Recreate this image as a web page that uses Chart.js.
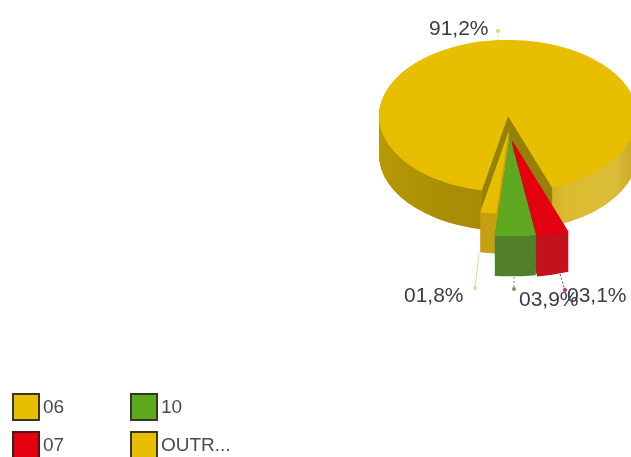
<!DOCTYPE html>
<html><head><meta charset="utf-8">
<script src="https://cdn.jsdelivr.net/npm/chart.js@4/dist/chart.umd.min.js"></script>
<style>html,body{margin:0;padding:0;background:#fff;overflow:hidden}canvas{display:block;filter:blur(0.45px)}</style>
</head><body><canvas id="c" width="631" height="457"></canvas>
<script>
// Data
const categories = ['07', '10', '06', 'OUTR...'];
const values = [3.1, 3.9, 1.8, 91.2];
const sliceLabels = ['03,1%', '03,9%', '01,8%', '91,2%'];
const legendOrder = ['06', '07', '10', 'OUTR...'];

// Styles
const faceColors = ['#e5000f', '#5fa81f', '#e8bf00', '#e8bf00'];
const depthColors = ['#c2141f', '#52802b', '#c6a012', null];
const legendBorders = {'06':'#3a3420','07':'#4a1a1a','10':'#2f3a20','OUTR...':'#3a3420'};
const shiftX = [4, 2, 1, 0];
const shiftY = [41, 36, 24, 0];
const growth = [1.28, 1.3, 1.1, 1];
const YS = 0.59, CY = 116, DEPTH = 66, R = 129;
const labelPos = [
  {x:567,y:296,mx:565,my:290,fx:560,fy:274,c:'#b03040',dash:[2,2]},
  {x:519,y:300,mx:514,my:289,fx:514,fy:277,c:'#7c9a5c',dash:[2,2]},
  {x:404,y:296,mx:475,my:288,fx:479,fy:253,c:'#e2d59a',dash:[]},
  {x:429,y:29,mx:498,my:31,fx:498,fy:41,c:'#e6cf70',dash:[2,2]}
];
const legendPos = {'06':[13,394],'07':[13,432],'10':[131,394],'OUTR...':[131,432]};

function path(ctx,a,dy){
  ctx.beginPath();
  ctx.moveTo(a.x,a.y+dy);
  ctx.arc(a.x,a.y+dy,a.outerRadius,a.startAngle,a.endAngle);
  ctx.closePath();
}
const pie3d = {
  id:'pie3d',
  afterDatasetsUpdate(chart){
    const arcs = chart.getDatasetMeta(0).data;
    arcs.forEach((a,i)=>{
      a.x+=shiftX[i];
      a.y+=shiftY[i];
      a.outerRadius*=growth[i];
    });
  },
  beforeDatasetsDraw(chart){
    const ctx=chart.ctx, arcs=chart.getDatasetMeta(0).data, big=arcs[3];
    ctx.save();
    ctx.translate(big.x,CY); ctx.scale(1,YS); ctx.translate(-big.x,-big.y);
    const g=ctx.createLinearGradient(big.x-R,0,big.x+R,0);
    g.addColorStop(0,'#b89a06');
    g.addColorStop(0.25,'#aa8d04');
    g.addColorStop(0.42,'#a98b05');
    g.addColorStop(0.62,'#c9a718');
    g.addColorStop(0.72,'#dcbb30');
    g.addColorStop(0.92,'#dbbd3a');
    g.addColorStop(1,'#c6a420');
    ctx.fillStyle=g;
    for(let d=DEPTH;d>0;d--){path(ctx,big,d);ctx.fill();}
    // radial walls of the gap
    [big.startAngle,big.endAngle].forEach(t=>{
      const ex=big.x+Math.cos(t)*R, ey=big.y+Math.sin(t)*R;
      ctx.fillStyle='#94800a';
      ctx.beginPath();
      ctx.moveTo(big.x,big.y);ctx.lineTo(ex,ey);ctx.lineTo(ex,ey+DEPTH);ctx.lineTo(big.x,big.y+DEPTH);
      ctx.closePath();ctx.fill();
    });
    [2,0,1].forEach(i=>{
      ctx.fillStyle=depthColors[i];
      for(let d=DEPTH+2;d>0;d--){path(ctx,arcs[i],d);ctx.fill();}
    });
  },
  afterDatasetsDraw(chart){
    const ctx=chart.ctx, arcs=chart.getDatasetMeta(0).data;
    [1].forEach(i=>{ path(ctx,arcs[i],0); ctx.fillStyle=faceColors[i]; ctx.fill(); });
    ctx.restore();
    // labels with leaders
    ctx.save();
    labelPos.forEach((p,i)=>{
      ctx.strokeStyle=p.c; ctx.lineWidth=1; ctx.setLineDash(p.dash);
      ctx.beginPath();ctx.moveTo(p.fx,p.fy);ctx.lineTo(p.mx,p.my);ctx.stroke();
      ctx.setLineDash([]);ctx.fillStyle=p.c;
      ctx.beginPath();ctx.arc(p.mx,p.my,2,0,Math.PI*2);ctx.fill();
    });
    ctx.fillStyle='#3c3c48';
    ctx.font='21px "Liberation Sans"';
    ctx.textBaseline='middle';ctx.textAlign='left';
    labelPos.forEach((p,i)=>ctx.fillText(sliceLabels[i],p.x,p.y));
    // legend
    ctx.font='19px "Liberation Sans"';
    legendOrder.forEach(name=>{
      const [x,y]=legendPos[name];
      const c=faceColors[categories.indexOf(name)];
      ctx.fillStyle=c;ctx.fillRect(x,y,26,26);
      ctx.strokeStyle=legendBorders[name];ctx.lineWidth=2;ctx.strokeRect(x,y,26,26);
      ctx.fillStyle='#4a4a55';
      ctx.fillText(name,x+30,y+14);
    });
    ctx.restore();
  }
};
new Chart(document.getElementById('c').getContext('2d'),{
  type:'pie',
  data:{labels:categories,datasets:[{data:values,backgroundColor:faceColors,borderWidth:0,clip:false}]},
  options:{
    responsive:false,animation:false,
    rotation:160,radius:R,
    layout:{padding:{left:385,right:0,top:0,bottom:205}},
    plugins:{legend:{display:false},tooltip:{enabled:false},title:{display:false}}
  },
  plugins:[pie3d]
});
</script></body></html>
